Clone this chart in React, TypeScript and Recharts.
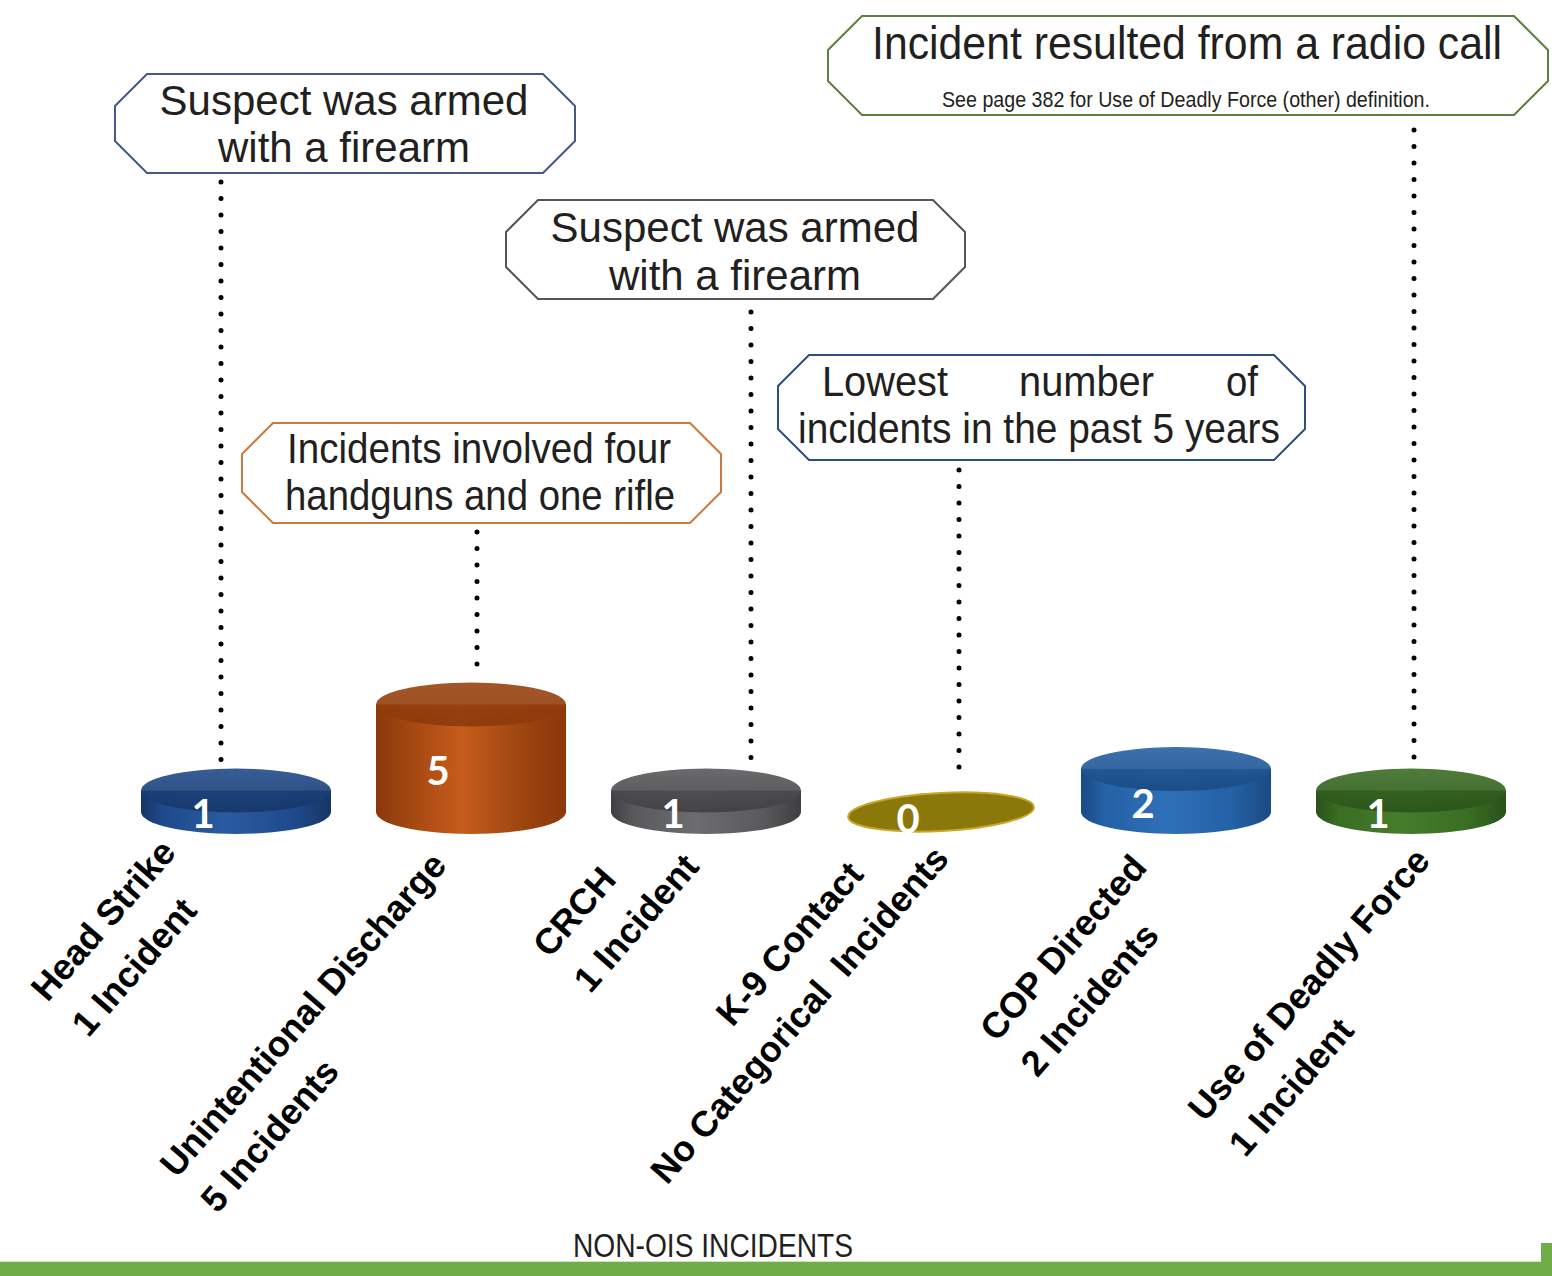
import React from 'react';
import { BarChart, Bar, XAxis, YAxis } from 'recharts';

const categories = [
  'Head Strike',
  'Unintentional Discharge',
  'CRCH',
  'K-9 Contact',
  'COP Directed',
  'Use of Deadly Force',
];
const captions = [
  '1 Incident',
  '5 Incidents',
  '1 Incident',
  'No Categorical  Incidents',
  '2 Incidents',
  '1 Incident',
];
const incidents = [1, 5, 1, 0, 2, 1];

const data = categories.map((name, i) => ({ name, value: incidents[i] }));

// light / dark / top-face colour per cylinder
const palette = [
  { light: '#2a5aa0', dark: '#163566', top: '#1f4b8c' },
  { light: '#c75c1c', dark: '#8c380b', top: '#9a430f' },
  { light: '#6d6d70', dark: '#3f3f41', top: '#5a5a5c' },
  { light: '#9a870f', dark: '#7a6a08', top: '#8a780b' },
  { light: '#2e70b8', dark: '#1a4a82', top: '#2461a5' },
  { light: '#467d2c', dark: '#29521a', top: '#3a6e23' },
];

// where each rotated label block starts, relative to its tick
const labelStart = [
  [-188, 191],
  [-294, 367],
  [-156, 147],
  [-208, 216],
  [-179, 231],
  [-206, 311],
];
const captionShift = [0, 0, 0, -162, 0, 0];

const RY = 22;
const FONT = '"Liberation Sans", Arial, sans-serif';

type Txt = { t: string; x: number; y: number; size: number; anchor?: 'start' | 'middle' | 'end'; len?: number };
type Callout = { bar: number; dx: number; lineTop: number; box: { x: number; y: number; w: number; h: number }; cut: number; stroke: string; texts: Txt[] };

const callouts: Callout[] = [
  {
    bar: 0, dx: -15, lineTop: 182,
    box: { x: 115, y: 74, w: 460, h: 99 }, cut: 32, stroke: '#44598a',
    texts: [
      { t: 'Suspect was armed', x: 344, y: 115, size: 42, anchor: 'middle' },
      { t: 'with a firearm', x: 344, y: 162, size: 42, anchor: 'middle' },
    ],
  },
  {
    bar: 1, dx: 6, lineTop: 532,
    box: { x: 242, y: 423, w: 479, h: 100 }, cut: 31, stroke: '#c97b3f',
    texts: [
      { t: 'Incidents involved four', x: 287, y: 463, size: 42, len: 384 },
      { t: 'handguns and one rifle', x: 285, y: 510, size: 42, len: 390 },
    ],
  },
  {
    bar: 2, dx: 45, lineTop: 312,
    box: { x: 506, y: 200, w: 459, h: 99 }, cut: 32, stroke: '#555555',
    texts: [
      { t: 'Suspect was armed', x: 735, y: 242, size: 42, anchor: 'middle' },
      { t: 'with a firearm', x: 735, y: 290, size: 42, anchor: 'middle' },
    ],
  },
  {
    bar: 3, dx: 18, lineTop: 470,
    box: { x: 778, y: 355, w: 527, h: 105 }, cut: 31, stroke: '#2d4f80',
    texts: [
      { t: 'Lowest', x: 822, y: 396, size: 42, len: 126 },
      { t: 'number', x: 1019, y: 396, size: 42, len: 135 },
      { t: 'of', x: 1226, y: 396, size: 42, len: 32 },
      { t: 'incidents in the past 5 years', x: 798, y: 443, size: 42, len: 482 },
    ],
  },
  {
    bar: 5, dx: 3, lineTop: 130,
    box: { x: 828, y: 16, w: 720, h: 99 }, cut: 34, stroke: '#5f7f3c',
    texts: [
      { t: 'Incident resulted from a radio call', x: 872, y: 59, size: 46, len: 630 },
      { t: 'See page 382 for Use of Deadly Force (other) definition.', x: 942, y: 107, size: 22, len: 488 },
    ],
  },
];

function Cylinder(props: any) {
  const { x, y, width, height, index, value } = props;
  const p = palette[index];
  const rx = width / 2;
  const cx = x + rx;
  const base = y + height;
  const note = callouts.find((c) => c.bar === index);
  const dots = note ? (
    <line
      x1={cx + note.dx}
      x2={cx + note.dx}
      y1={note.lineTop}
      y2={y - RY - 8}
      stroke="#000"
      strokeWidth={5}
      strokeLinecap="round"
      strokeDasharray="0 16.5"
    />
  ) : null;
  const label = (
    <text
      x={cx - 33}
      y={height < 1 ? base + 6 : y + height / 2 + 12}
      textAnchor="middle"
      dominantBaseline="central"
      fill="#ffffff"
      fontFamily="Lato, sans-serif"
      fontWeight={700}
      fontSize={40}
    >
      {Array.isArray(value) ? value[1] : value}
    </text>
  );

  if (height < 1) {
    return (
      <g>
        {dots}
        <ellipse
          cx={cx}
          cy={base}
          rx={rx - 2}
          ry={RY - 3}
          fill={p.top}
          stroke="#c8a82a"
          strokeWidth={2}
          transform={`rotate(-3 ${cx} ${base})`}
        />
        {label}
      </g>
    );
  }

  return (
    <g>
      <defs>
        <linearGradient id={`cylBody${index}`} x1="0" y1="0" x2="1" y2="0">
          <stop offset="0%" stopColor={p.dark} />
          <stop offset="12%" stopColor={p.top} />
          <stop offset="45%" stopColor={p.light} />
          <stop offset="80%" stopColor={p.top} />
          <stop offset="100%" stopColor={p.dark} />
        </linearGradient>
        <linearGradient id={`cylTop${index}`} x1="0" y1="0" x2="0" y2="1">
          <stop offset="0%" stopColor={p.top} />
          <stop offset="100%" stopColor={p.dark} />
        </linearGradient>
      </defs>
      {dots}
      <path
        d={`M${x},${y} L${x},${base} A${rx},${RY} 0 0 0 ${x + width},${base} L${x + width},${y} Z`}
        fill={`url(#cylBody${index})`}
      />
      <ellipse cx={cx} cy={y} rx={rx} ry={RY} fill={`url(#cylTop${index})`} opacity={0.9} />
      {label}
    </g>
  );
}

const TICK_SIZE = 36;
const TICK_LH = 54;

function RotatedTick(props: any) {
  const { x, y, payload, index } = props;
  const [sx, sy] = labelStart[index];
  return (
    <g transform={`translate(${x + sx},${y + sy}) rotate(-49)`}>
      <text x={0} y={0} fontFamily={FONT} fontWeight={700} fontSize={TICK_SIZE} fill="#000">
        {payload.value}
      </text>
      <text
        x={captionShift[index]}
        y={TICK_LH}
        fontFamily={FONT}
        fontWeight={700}
        fontSize={TICK_SIZE}
        fill="#000"
        style={{ whiteSpace: 'pre' }}
      >
        {captions[index]}
      </text>
    </g>
  );
}

function octagon(b: { x: number; y: number; w: number; h: number }, c: number) {
  const { x, y, w, h } = b;
  return [
    [x + c, y], [x + w - c, y], [x + w, y + c], [x + w, y + h - c],
    [x + w - c, y + h], [x + c, y + h], [x, y + h - c], [x, y + c],
  ].map((p) => p.join(',')).join(' ');
}

export default function App() {
  return (
    <div style={{ position: 'absolute', left: 0, top: 0, width: 1552, height: 1276, background: '#fff' }}>
      <BarChart
        width={1552}
        height={1276}
        data={data}
        margin={{ top: 597, right: 24, left: 118, bottom: 434 }}
      >
        <XAxis
          dataKey="name"
          axisLine={false}
          tickLine={false}
          tickSize={0}
          tickMargin={0}
          height={30}
          interval={0}
          tick={<RotatedTick />}
        />
        <YAxis hide domain={[0, 10]} />
        <Bar dataKey="value" barSize={190} shape={<Cylinder />} isAnimationActive={false} />
      </BarChart>
      <svg
        width={1552}
        height={1276}
        style={{ position: 'absolute', left: 0, top: 0, pointerEvents: 'none' }}
      >
        {callouts.map((co, i) => (
          <g key={i}>
            <polygon points={octagon(co.box, co.cut)} fill="#fff" stroke={co.stroke} strokeWidth={2} />
            {co.texts.map((t, j) => (
              <text
                key={j}
                x={t.x}
                y={t.y}
                fontFamily={FONT}
                fontSize={t.size}
                fill="#231f20"
                textAnchor={t.anchor || 'start'}
                {...(t.len ? { textLength: t.len, lengthAdjust: 'spacingAndGlyphs' } : {})}
              >
                {t.t}
              </text>
            ))}
          </g>
        ))}
        <text x={573} y={1257} fontFamily={FONT} fontSize={33} fill="#231f20" textLength={280} lengthAdjust="spacingAndGlyphs">
          NON-OIS INCIDENTS
        </text>
        <rect x={0} y={1262} width={1552} height={14} fill="#70ad47" />
        <rect x={0} y={1261} width={1552} height={1} fill="#cfe3c0" />
        <rect x={1541} y={1243} width={11} height={20} fill="#70ad47" />
      </svg>
    </div>
  );
}
